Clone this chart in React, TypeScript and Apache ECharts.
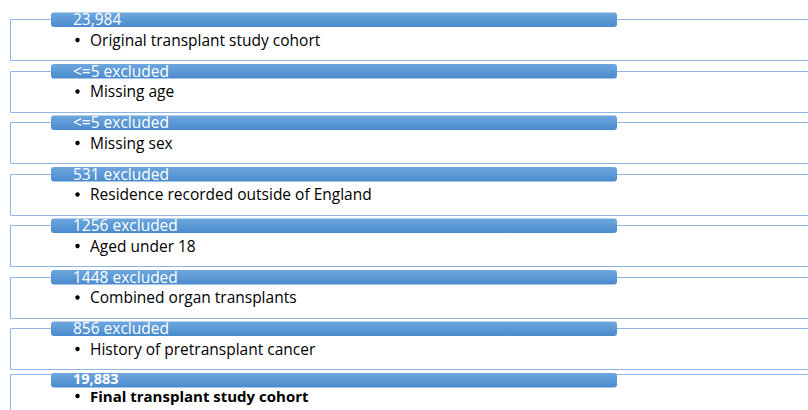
import React, { useEffect, useRef } from "react";
import * as echarts from "echarts";

const headers: string[] = [
  "23,984",
  "<=5 excluded",
  "<=5 excluded",
  "531 excluded",
  "1256 excluded",
  "1448 excluded",
  "856 excluded",
  "19,883",
];

const descriptions: string[] = [
  "Original transplant study cohort",
  "Missing age",
  "Missing sex",
  "Residence recorded outside of England",
  "Aged under 18",
  "Combined organ transplants",
  "History of pretransplant cancer",
  "Final transplant study cohort",
];

const boldFlags: boolean[] = [false, false, false, false, false, false, false, true];

const FONT = "'Open Sans', 'Noto Sans', sans-serif";

export default function App() {
  const ref = useRef<HTMLDivElement>(null);

  useEffect(() => {
    if (!ref.current) return;
    const chart = echarts.init(ref.current, null, { renderer: "svg" });

    const pitch = 51.5;
    const elements: any[] = [];
    headers.forEach((h, i) => {
      const last = i === headers.length - 1;
      const barTop = 12.5 + pitch * i;
      const boxTop = last ? 374.5 : Math.round(19 + pitch * i) + 0.5;
      const bold = boldFlags[i];
      elements.push({
        type: "rect",
        shape: { x: 10.5, y: boxTop, width: 830, height: 41 },
        style: { fill: "#ffffff", stroke: "#8fb6e3", lineWidth: 1 },
        z: 1,
      });
      elements.push({
        type: "rect",
        shape: { x: 51, y: barTop, width: 566, height: 14.5, r: 3 },
        style: {
          fill: new echarts.graphic.LinearGradient(0, 0, 0, 1, [
            { offset: 0, color: "#6ea7de" },
            { offset: 1, color: "#4a8bcd" },
          ]),
        },
        z: 2,
      });
      elements.push({
        type: "text",
        x: 73,
        y: last ? barTop + 5 : barTop + 6.5,
        style: {
          text: h,
          fill: "#ffffff",
          font: `${bold ? "bold 14.5px" : "15.5px"} ${FONT}`,
          verticalAlign: "middle",
          align: "left",
        },
        z: 3,
      });
      const descY = last ? barTop + 22.5 : barTop + 27;
      elements.push({
        type: "circle",
        shape: { cx: 77.5, cy: descY + 0.5, r: 2.2 },
        style: { fill: "#000000" },
        z: 3,
      });
      elements.push({
        type: "text",
        x: 90,
        y: descY,
        style: {
          text: descriptions[i],
          fill: "#000000",
          font: `${bold ? "bold 15px" : "15.5px"} ${FONT}`,
          verticalAlign: "middle",
          align: "left",
        },
        z: 3,
      });
    });

    chart.setOption({
      animation: false,
      backgroundColor: "#ffffff",
      graphic: { elements },
    });

    return () => chart.dispose();
  }, []);

  return (
    <div
      ref={ref}
      style={{ position: "fixed", left: 0, top: 0, width: 808, height: 410 }}
    />
  );
}
